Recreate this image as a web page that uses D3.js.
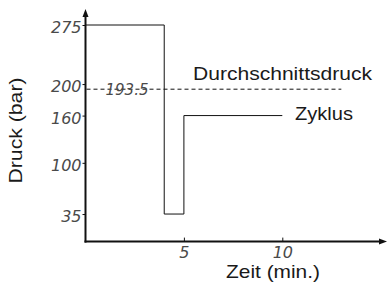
<!DOCTYPE html>
<html>
<head>
<meta charset="utf-8">
<script src="https://cdn.jsdelivr.net/npm/d3@7"></script>
<style>
  body { margin: 0; background: #fff; }
  svg { display: block; }
  .tl { font-family: "DejaVu Sans ExtraLight", "DejaVu Sans", sans-serif; font-weight: 200; font-style: italic; fill: #4a4a4a; }
  .lbl { font-family: "Liberation Sans", Arial, sans-serif; font-size: 19px; fill: #1a1a1a; }
</style>
</head>
<body>
<svg id="chart"></svg>
<script>
// Druckzyklus: Zeit (min.) gegen Druck (bar)
const zeit = [0, 4, 4, 5, 5, 10];
const druck = [275, 275, 35, 35, 160, 160];
const mittelwert = 193.5;
const mittelBis = 13;
const yTicks = [35, 100, 160, 200, 275];
const xTicks = [5, 10];

const width = 388, height = 284;
const svg = d3.select('#chart').attr('width', width).attr('height', height);

// Skalen
const x = d3.scaleLinear().domain([0, 10]).range([85.5, 282.3]);
const y = d3.scaleLinear().domain([0, 275]).range([241.6, 25]);

const axisColor = '#111';

// Y-Achse (Ticks nach außen)
const yAxis = svg.append('g')
  .attr('transform', `translate(${x(0)},0)`)
  .call(d3.axisLeft(y).tickValues(yTicks).tickSize(3).tickPadding(1));
yAxis.select('.domain').remove();
yAxis.selectAll('.tick line').attr('stroke', axisColor);
yAxis.selectAll('.tick text').attr('class', 'tl').attr('font-size', 16).attr('dy', '0.48em');

// X-Achse (Ticks nach innen)
const xAxis = svg.append('g')
  .attr('transform', `translate(0,${y(0)})`)
  .call(d3.axisBottom(x).tickValues(xTicks).tickSize(-4).tickPadding(5));
xAxis.select('.domain').remove();
xAxis.selectAll('.tick line').attr('stroke', axisColor);
xAxis.selectAll('.tick text').attr('class', 'tl').attr('font-size', 16);

// Achsenlinien mit Pfeilen
svg.append('line')
  .attr('x1', x(0)).attr('y1', y(0) + 1)
  .attr('x2', x(0)).attr('y2', 14)
  .attr('stroke', axisColor).attr('stroke-width', 2);
svg.append('line')
  .attr('x1', x(0) - 1).attr('y1', y(0))
  .attr('x2', 382).attr('y2', y(0))
  .attr('stroke', axisColor).attr('stroke-width', 2);
svg.append('path')
  .attr('d', `M${x(0)},9 L${x(0) - 3},17 L${x(0) + 3},17 Z`)
  .attr('fill', axisColor);
svg.append('path')
  .attr('d', `M387,${y(0)} L379,${y(0) - 3} L379,${y(0) + 3} Z`)
  .attr('fill', axisColor);

// Durchschnittsdruck (gestrichelt)
svg.append('line')
  .attr('x1', x(0) + 1).attr('y1', y(mittelwert))
  .attr('x2', x(mittelBis)).attr('y2', y(mittelwert))
  .attr('stroke', '#111').attr('stroke-width', 1)
  .attr('stroke-dasharray', '4,3');

svg.append('text')
  .attr('class', 'tl')
  .attr('x', x(0) + 20).attr('y', y(mittelwert))
  .attr('dy', '0.38em')
  .attr('font-size', 15)
  .text(mittelwert.toString());

// Zyklus als Stufenlinie
const line = d3.line()
  .x((d, i) => x(zeit[i]))
  .y((d) => y(d));
svg.append('path')
  .datum(druck)
  .attr('d', line)
  .attr('fill', 'none')
  .attr('stroke', '#111')
  .attr('stroke-width', 1);

// Beschriftungen
const labels = [
  { t: 'Durchschnittsdruck', x: 193, y: 80, len: 179 },
  { t: 'Zyklus', x: 295, y: 120, len: 58 },
  { t: 'Zeit (min.)', x: 226, y: 278, len: 94 }
];
labels.forEach((l) => {
  svg.append('text').attr('class', 'lbl')
    .attr('x', l.x).attr('y', l.y)
    .attr('textLength', l.len).attr('lengthAdjust', 'spacingAndGlyphs')
    .text(l.t);
});
svg.append('text').attr('class', 'lbl')
  .attr('transform', 'translate(22,130.5) rotate(-90)')
  .attr('text-anchor', 'middle')
  .attr('textLength', 106).attr('lengthAdjust', 'spacingAndGlyphs')
  .text('Druck (bar)');
</script>
</body>
</html>
